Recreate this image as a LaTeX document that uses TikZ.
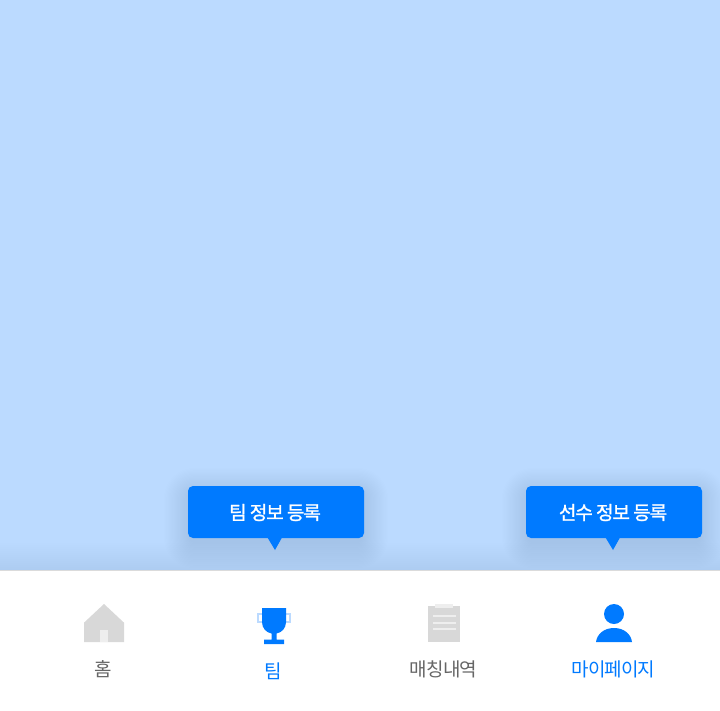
\documentclass[tikz,border=0pt]{standalone}
\usepackage{fontspec}
\newfontfamily\krfont[LetterSpace=-5]{Noto Sans CJK KR}
\newfontfamily\krbold[FakeBold=1.2,LetterSpace=-5.5]{Noto Sans CJK KR}
\definecolor{sky}{HTML}{BBDAFF}
\definecolor{brand}{HTML}{007AFF}
\definecolor{idle}{HTML}{D8D8D8}
\definecolor{idlelight}{HTML}{EEEEEE}
\definecolor{labelgray}{HTML}{666666}
\definecolor{shadowblue}{HTML}{35507A}
\tikzset{
  tabtext/.style={font=\krfont\fontsize{19}{20}\selectfont, inner sep=0pt, anchor=center},
  bubble/.style={fill=brand, rounded corners=5pt, minimum width=176pt, minimum height=52pt, inner sep=0pt},
  bubbletext/.style={inner sep=0pt, text=white, font=\krbold\fontsize{19}{20}\selectfont},
  idleshape/.style={fill=idle, draw=none},
  activeshape/.style={fill=brand, draw=none},
  lightshape/.style={fill=idlelight, draw=none}
}
\begin{document}
\begin{tikzpicture}[x=1pt,y=-1pt]
\useasboundingbox (0,0) rectangle (720,710);
% backdrop
\fill[sky] (0,0) rectangle (720,571);
% soft shadow cast upward by the tab bar
\foreach \i in {0,...,13}{
  \fill[shadowblue,opacity=0.0028] (0,{543+\i*2}) rectangle (720,571);
}
% bubble shadows
\foreach \bx in {188,526}{
  \foreach \i in {0,...,21}{
    \pgfmathsetmacro{\rr}{5+(21-\i)*1.2}
    \fill[shadowblue,opacity=0.0032,rounded corners=\rr pt]
      ({\bx-24+\i*1.2},{486-18+\i*1.2}) rectangle ({\bx+176+24-\i*1.2},{538+30-\i*1.2});
  }
}
% tab bar
\fill[white] (0,571) rectangle (720,710);
\fill[black!14] (0,570) rectangle (720,571);
% bubbles
\node[bubble] (teambubble) at (276,512) {};
\node[bubbletext] (teamtext) at (275,512.5) {팀 정보 등록};
\fill[brand] (267.5,537.5) -- (282,537.5) -- (275,550) -- cycle;
\node[bubble] (playerbubble) at (614,512) {};
\node[bubbletext] (playertext) at (613,512.5) {선수 정보 등록};
\fill[brand] (605.5,537.5) -- (620,537.5) -- (613,550) -- cycle;
% home icon
\fill[idleshape] (104,604) -- (124,622.7) -- (124,642) -- (84,642) -- (84,622.7) -- cycle;
\fill[lightshape] (100,630) rectangle (108,642);
% trophy icon
\draw[sky,line width=2pt] (263,614) -- (258,614) -- (258,622) -- (263,622);
\draw[sky,line width=2pt] (285,614) -- (290,614) -- (290,622) -- (285,622);
\fill[activeshape] (262,608) -- (286,608) -- (286,622) .. controls (286,628) and (282,632.5) .. (276.5,633.5)
  -- (276.5,639.5) -- (284,639.5) -- (284,644) -- (264,644) -- (264,639.5) -- (271.5,639.5) -- (271.5,633.5)
  .. controls (266,632.5) and (262,628) .. (262,622) -- cycle;
% clipboard icon
\fill[idleshape] (428,606) rectangle (460,642);
\fill[lightshape] (435,604) rectangle (453,608);
\foreach \ly in {616,622.7,629.3}{
  \fill[lightshape] (432.5,{\ly-1}) rectangle (455.5,{\ly+1});
}
% person icon
\fill[activeshape] (614,614) circle[radius=10];
\fill[activeshape] (596,642) .. controls (597,634) and (604,628) .. (614,628) .. controls (624,628) and (631,634) .. (632,642) -- cycle;
% labels
\node[tabtext,text=labelgray] (home) at (103,669) {홈};
\node[tabtext,text=brand] (team) at (273,671) {팀};
\node[tabtext,text=labelgray] (match) at (443.5,669) {매칭내역};
\node[tabtext,text=brand] (mypage) at (613.5,669) {마이페이지};
\end{tikzpicture}
\end{document}
